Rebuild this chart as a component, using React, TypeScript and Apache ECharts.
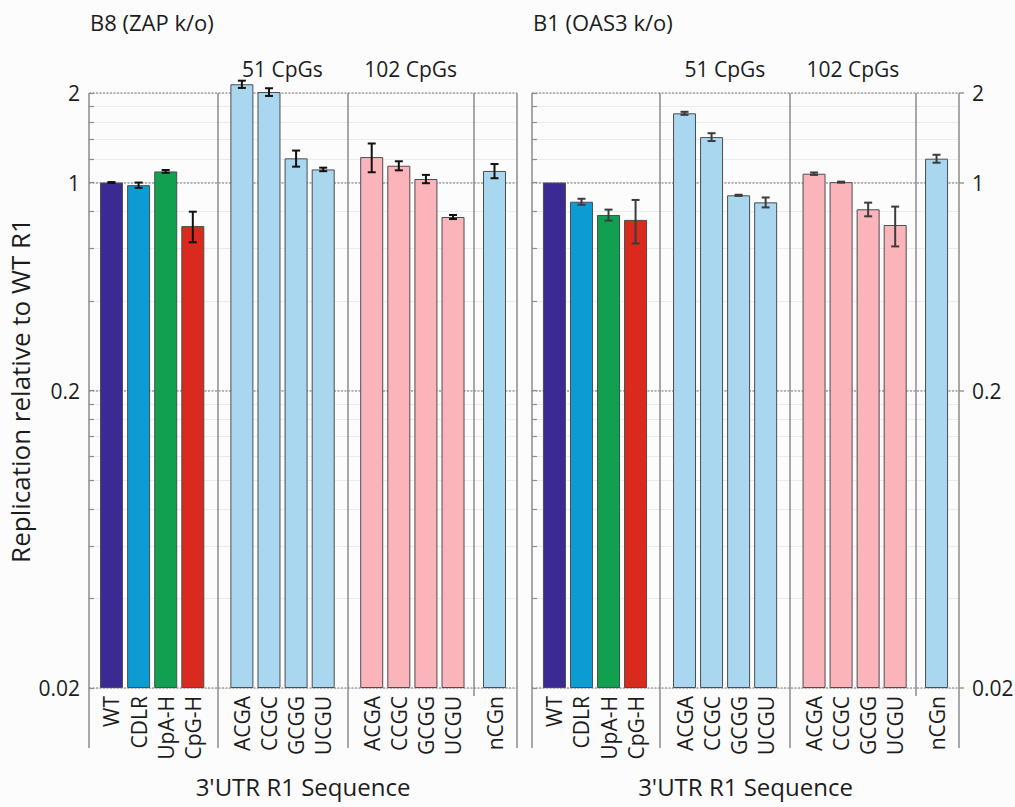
import React, { useEffect, useRef } from "react";
import * as echarts from "echarts";

// ---------- data ----------
const CATEGORIES = ["WT", "CDLR", "UpA-H", "CpG-H", "ACGA", "CCGC", "GCGG", "UCGU", "ACGA", "CCGC", "GCGG", "UCGU", "nCGn"];
const GROUP_SIZES = [4, 4, 4, 1];
const GROUP_LABELS = ["", "51 CpGs", "102 CpGs", ""];
const PANEL_TITLES = ["B8 (ZAP k/o)", "B1 (OAS3 k/o)"];
const B8_VALUES = [1.0, 0.98, 1.09, 0.714, 2.14, 2.015, 1.206, 1.107, 1.218, 1.139, 1.028, 0.766, 1.094];
const B8_ERRORS = [0.004, 0.02, 0.012, 0.084, 0.06, 0.06, 0.075, 0.015, 0.135, 0.04, 0.033, 0.012, 0.06];
const B1_VALUES = [1.0, 0.862, 0.778, 0.749, 1.709, 1.422, 0.906, 0.858, 1.071, 1.003, 0.813, 0.72, 1.203];
const B1_ERRORS = [0, 0.02, 0.033, 0.125, 0.02, 0.043, 0.004, 0.033, 0.01, 0.004, 0.043, 0.11, 0.037];
const Y_MAJOR_TICKS = [0.02, 0.2, 1, 2];
const Y_MINOR_TICKS = [0.02, 0.04, 0.06, 0.08, 0.1, 0.12, 0.14, 0.16, 0.18, 0.2, 0.4, 0.6, 0.8, 1, 1.2, 1.4, 1.6, 1.8, 2];
const BAR_COLORS = [
  "#3b2a93", "#0c9cd4", "#10a050", "#da2a1e",
  "#a9d7ef", "#a9d7ef", "#a9d7ef", "#a9d7ef",
  "#fbb5ba", "#fbb5ba", "#fbb5ba", "#fbb5ba",
  "#a9d7ef",
];
const Y_MIN = 0.02;
const Y_LABEL = "Replication relative to WT R1";
const X_LABEL = "3'UTR R1 Sequence";

// ---------- layout (slot units) ----------
const LEFT_PAD = 0.83;
const GROUP_GAPS = [1.81, 1.79, 1.53];
const X_SPAN = 15.79;
const PANEL_LEFT = [89, 532];
const PANEL_WIDTH = [428, 427];
const GRID_TOP = 93;
const GRID_HEIGHT = 595;

const FONT = "'Open Sans', sans-serif";
const TEXT = "#1c1c1c";

// log transform relative to the axis minimum
const L = (v: number) => Math.round(Math.log10(v / Y_MIN) * 1e9) / 1e9;
const LT = (v: number) => Math.min(2, Math.max(0, L(v)));

function buildLayout() {
  const pos: number[] = [];
  const seps: number[] = [];
  let p = LEFT_PAD;
  GROUP_SIZES.forEach((n, g) => {
    for (let i = 0; i < n; i++) {
      pos.push(p);
      if (i < n - 1) p += 1;
    }
    if (g < GROUP_SIZES.length - 1) {
      const next = p + GROUP_GAPS[g];
      seps.push((p + next) / 2);
      p = next;
    }
  });
  const bounds = [0, ...seps, X_SPAN];
  const centers = GROUP_SIZES.map((_, g) => (bounds[g] + bounds[g + 1]) / 2);
  return { pos, seps, centers };
}

export default function App() {
  const ref = useRef<HTMLDivElement>(null);
  useEffect(() => {
    if (!ref.current) return;
    const chart = echarts.init(ref.current, undefined, { renderer: "svg" });
    const { pos, seps, centers } = buildLayout();
    const nearest = (arr: number[], v: number) => {
      let bi = 0;
      arr.forEach((a, i) => {
        if (Math.abs(a - v) < Math.abs(arr[bi] - v)) bi = i;
      });
      return bi;
    };
    const labeledCenters = centers.filter((_, g) => GROUP_LABELS[g] !== "");
    const labeledNames = GROUP_LABELS.filter((s) => s !== "");
    const majorT = Y_MAJOR_TICKS.map(LT);
    const minorT = Y_MINOR_TICKS.map(LT);

    const grids: any[] = [];
    const xAxes: any[] = [];
    const yAxes: any[] = [];
    const series: any[] = [];
    const panels = [
      { values: B8_VALUES, errors: B8_ERRORS, errColor: "#111111" },
      { values: B1_VALUES, errors: B1_ERRORS, errColor: "#3c3c3c" },
    ];

    panels.forEach((pd, p) => {
      grids.push({
        left: PANEL_LEFT[p],
        top: GRID_TOP,
        width: PANEL_WIDTH[p],
        height: GRID_HEIGHT,
        show: false,
        containLabel: false,
        outerBoundsMode: "none",
      });
      const baseX = {
        type: "value",
        gridIndex: p,
        min: 0,
        max: X_SPAN,
        position: "bottom",
        axisLine: { show: false, onZero: false },
        axisPointer: { show: false },
      };
      // long separators + bar labels
      xAxes.push({
        ...baseX,
        name: X_LABEL,
        nameLocation: "middle",
        nameGap: 86,
        nameMoveOverlap: false,
        nameTextStyle: { fontFamily: FONT, fontSize: 24, color: TEXT },
        axisTick: {
          show: true,
          inside: false,
          length: 60,
          customValues: [0, seps[0], seps[1], X_SPAN],
          lineStyle: { color: "#8d8d8d", width: 1.5 },
        },
        splitLine: { show: true, lineStyle: { color: "#8d8d8d", width: 1.5 } },
        axisLabel: {
          show: true,
          customValues: pos,
          rotate: 90,
          margin: 8,
          fontFamily: FONT,
          fontSize: 21,
          color: TEXT,
          formatter: (v: number) => CATEGORIES[nearest(pos, v)],
        },
      });
      // short separator
      xAxes.push({
        ...baseX,
        axisTick: {
          show: true,
          inside: false,
          length: 8,
          customValues: [seps[2]],
          lineStyle: { color: "#8d8d8d", width: 1.5 },
        },
        splitLine: { show: true, lineStyle: { color: "#8d8d8d", width: 1.5 } },
        axisLabel: { show: false },
      });
      // group labels on top
      xAxes.push({
        ...baseX,
        position: "top",
        axisTick: { show: false },
        splitLine: { show: false },
        axisLabel: {
          show: true,
          customValues: labeledCenters,
          margin: 14,
          fontFamily: FONT,
          fontSize: 21,
          color: TEXT,
          formatter: (v: number) => labeledNames[nearest(labeledCenters, v)],
        },
      });

      const baseY = {
        type: "value",
        gridIndex: p,
        min: 0,
        max: 2,
        axisPointer: { show: false },
      };
      yAxes.push({
        ...baseY,
        position: "left",
        axisLine: { show: false, onZero: false },
        axisTick: {
          show: true,
          inside: true,
          length: 5,
          customValues: minorT,
          lineStyle: { color: "#8d8d8d", width: 1.2 },
        },
        splitLine: { show: true, lineStyle: { color: "#ebebeb", width: 1 } },
        axisLabel: { show: false },
      });
      yAxes.push({
        ...baseY,
        position: p === 0 ? "left" : "right",
        axisLine: { show: false, onZero: false },
        name: p === 0 ? Y_LABEL : "",
        nameLocation: "middle",
        nameGap: 56,
        nameMoveOverlap: false,
        nameTextStyle: { fontFamily: FONT, fontSize: 26, color: TEXT },
        axisTick: {
          show: p === 1,
          inside: false,
          length: 5,
          customValues: majorT,
          lineStyle: { color: "#999999", width: 1.5 },
        },
        splitLine: {
          show: true,
          lineStyle: { color: "#a0a0a0", width: 1.6, type: [2, 1.5] },
        },
        axisLabel: {
          show: true,
          customValues: majorT,
          margin: p === 0 ? 9 : 13,
          fontFamily: FONT,
          fontSize: 21,
          color: TEXT,
          formatter: (v: number) => String(Y_MAJOR_TICKS[nearest(majorT, v)]),
        },
      });

      series.push({
        type: "bar",
        xAxisIndex: p * 3,
        yAxisIndex: p * 2,
        barWidth: 23,
        clip: false,
        data: pd.values.map((v, i) => ({
          value: [pos[i], L(v)],
          itemStyle: { color: BAR_COLORS[i] },
        })),
        itemStyle: { borderColor: "#4d4d4d", borderWidth: 1 },
        z: 3,
      });
      const errData = pd.values
        .map((v, i) => [pos[i], L(v - pd.errors[i]), L(v + pd.errors[i]), pd.errors[i]])
        .filter((d) => d[3] > 0);
      series.push({
        type: "custom",
        xAxisIndex: p * 3,
        yAxisIndex: p * 2,
        clip: false,
        data: errData,
        encode: { x: 0, y: [1, 2] },
        z: 5,
        renderItem: (_params: any, api: any) => {
          const x = api.value(0);
          const lo = api.coord([x, api.value(1)]);
          const hi = api.coord([x, api.value(2)]);
          const hw = 4;
          const style = { stroke: pd.errColor, lineWidth: 2 };
          return {
            type: "group",
            children: [
              { type: "line", shape: { x1: lo[0], y1: lo[1], x2: hi[0], y2: hi[1] }, style },
              { type: "line", shape: { x1: lo[0] - hw, y1: lo[1], x2: lo[0] + hw, y2: lo[1] }, style },
              { type: "line", shape: { x1: hi[0] - hw, y1: hi[1], x2: hi[0] + hw, y2: hi[1] }, style },
            ],
          };
        },
      });
    });

    chart.setOption({
      animation: false,
      backgroundColor: "#fcfcfc",
      title: PANEL_TITLES.map((t, p) => ({
        text: t,
        left: PANEL_LEFT[p] + 1,
        top: 11,
        padding: 0,
        textStyle: { fontFamily: FONT, fontSize: 22, fontWeight: "normal", color: TEXT },
      })),
      grid: grids,
      xAxis: xAxes,
      yAxis: yAxes,
      series,
    });
    return () => chart.dispose();
  }, []);
  return (
    <div
      ref={ref}
      style={{ position: "absolute", left: 0, top: 0, width: 1015, height: 807 }}
    />
  );
}
